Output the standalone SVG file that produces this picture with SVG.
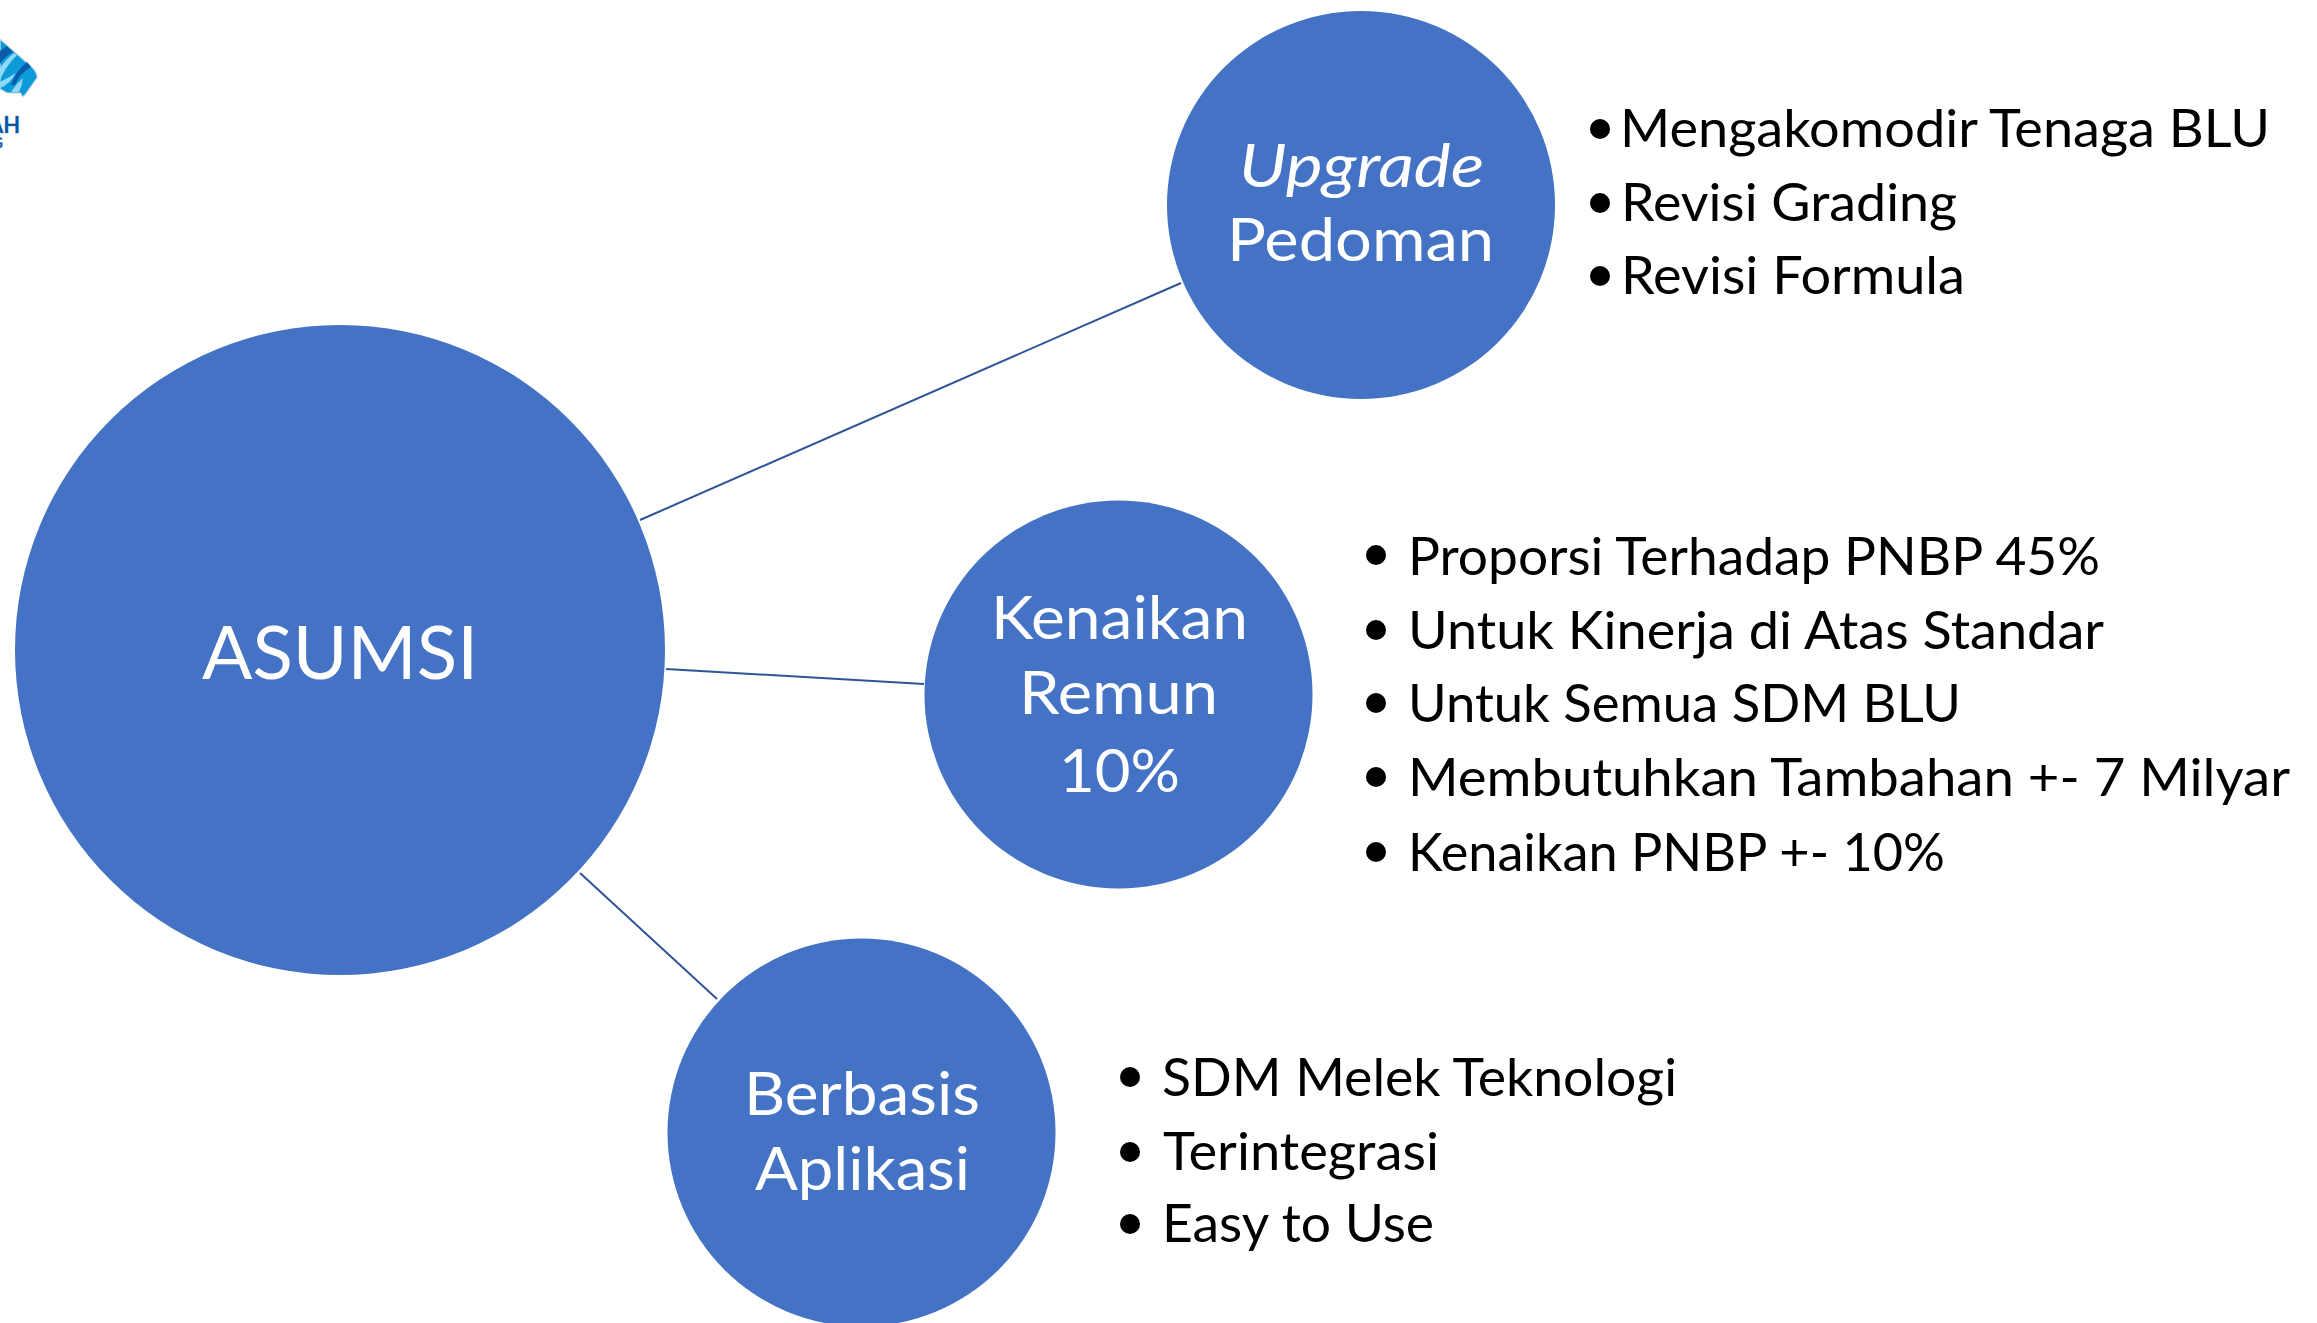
<svg xmlns="http://www.w3.org/2000/svg" width="2317" height="1323" viewBox="0 0 2317 1323">
<style>
text{font-family:Lato,"Open Sans","Liberation Sans",sans-serif}
.n{fill:#4472c4}
.w{fill:#fff;font-size:60px}
.b{fill:#000;font-size:52px}
.d{fill:#000}
.c{stroke:#2f5597;stroke-width:2;fill:none}
.l{font-weight:700;fill:#0a57a8;stroke:#d5dde5;stroke-width:.8;paint-order:stroke}
</style>
<rect width="2317" height="1323" fill="#fff"/>
<g id="logo">
<path d="M0 39L33 68Q38 74 37 78L25 95L22.5 97L20.5 93L7 93L0 89Z" fill="#0d9ad8" stroke="#d5dde5" stroke-width="1.2"/>
<path d="M0 64Q5 56 13 52L7 46L0 51Z" fill="#0a5cab"/>
<path d="M0 80Q6 66 17 55L14 53Q5 60 0 68Z" fill="#8ed8f8"/>
<path d="M11 85Q15 72 27 62L31 67Q20 73 15 85Z" fill="#0a5cab"/>
<path d="M0 88Q10 84 16 73Q8 78 0 82Z" fill="#8ed8f8"/>
<path d="M11 92Q16 84 23 78Q22 86 19 92Z" fill="#8ed8f8"/>
<text class="l" x="-12" y="133" font-size="22">AH</text>
<text class="l" x="-8" y="148" font-size="15">G</text>
</g>
<g id="connectors">
<line class="c" x1="640" y1="520" x2="1181" y2="283"/>
<line class="c" x1="666" y1="669" x2="924" y2="684"/>
<line class="c" x1="580" y1="873" x2="717" y2="999"/>
</g>
<g id="asumsi"><circle class="n" cx="340" cy="650" r="325"/>
<text class="w" style="font-size:74px" x="202" y="679" textLength="276" lengthAdjust="spacingAndGlyphs">ASUMSI</text></g>
<g id="upgrade"><circle class="n" cx="1361" cy="205" r="194"/>
<text class="w" font-style="italic" x="1239" y="187" textLength="245" lengthAdjust="spacingAndGlyphs">Upgrade</text>
<text class="w" x="1227" y="261" textLength="267" lengthAdjust="spacingAndGlyphs">Pedoman</text></g>
<g id="kenaikan"><circle class="n" cx="1118.5" cy="694.5" r="194"/>
<text class="w" x="991" y="639" textLength="257" lengthAdjust="spacingAndGlyphs">Kenaikan</text>
<text class="w" x="1019" y="714" textLength="199" lengthAdjust="spacingAndGlyphs">Remun</text>
<text class="w" x="1059" y="792" textLength="121" lengthAdjust="spacingAndGlyphs">10%</text></g>
<g id="berbasis"><circle class="n" cx="861.5" cy="1132.5" r="194"/>
<text class="w" x="744" y="1115" textLength="236" lengthAdjust="spacingAndGlyphs">Berbasis</text>
<text class="w" x="755" y="1190" textLength="215" lengthAdjust="spacingAndGlyphs">Aplikasi</text></g>
<g id="list-upgrade">
<circle class="d" cx="1600" cy="129" r="10"/><text class="b" x="1620" y="147" textLength="650" lengthAdjust="spacingAndGlyphs">Mengakomodir Tenaga BLU</text>
<circle class="d" cx="1600" cy="203" r="10"/><text class="b" x="1621" y="221" textLength="336" lengthAdjust="spacingAndGlyphs">Revisi Grading</text>
<circle class="d" cx="1600" cy="276" r="10"/><text class="b" x="1621" y="294" textLength="344" lengthAdjust="spacingAndGlyphs">Revisi Formula</text>
</g>
<g id="list-kenaikan">
<circle class="d" cx="1376" cy="555" r="10"/><text class="b" x="1408" y="575" textLength="692" lengthAdjust="spacingAndGlyphs">Proporsi Terhadap PNBP 45%</text>
<circle class="d" cx="1376" cy="630" r="10"/><text class="b" x="1408" y="649" textLength="696" lengthAdjust="spacingAndGlyphs">Untuk Kinerja di Atas Standar</text>
<circle class="d" cx="1376" cy="703" r="10"/><text class="b" x="1408" y="722" textLength="553" lengthAdjust="spacingAndGlyphs">Untuk Semua SDM BLU</text>
<circle class="d" cx="1376" cy="777" r="10"/><text class="b" x="1408" y="796" textLength="882" lengthAdjust="spacingAndGlyphs">Membutuhkan Tambahan +- 7 Milyar</text>
<circle class="d" cx="1376" cy="852" r="10"/><text class="b" x="1408" y="871" textLength="537" lengthAdjust="spacingAndGlyphs">Kenaikan PNBP +- 10%</text>
</g>
<g id="list-berbasis">
<circle class="d" cx="1130" cy="1077" r="10"/><text class="b" x="1162" y="1096" textLength="515" lengthAdjust="spacingAndGlyphs">SDM Melek Teknologi</text>
<circle class="d" cx="1130" cy="1152" r="10"/><text class="b" x="1163" y="1170" textLength="276" lengthAdjust="spacingAndGlyphs">Terintegrasi</text>
<circle class="d" cx="1130" cy="1224" r="10"/><text class="b" x="1162" y="1242" textLength="272" lengthAdjust="spacingAndGlyphs">Easy to Use</text>
</g>
</svg>
